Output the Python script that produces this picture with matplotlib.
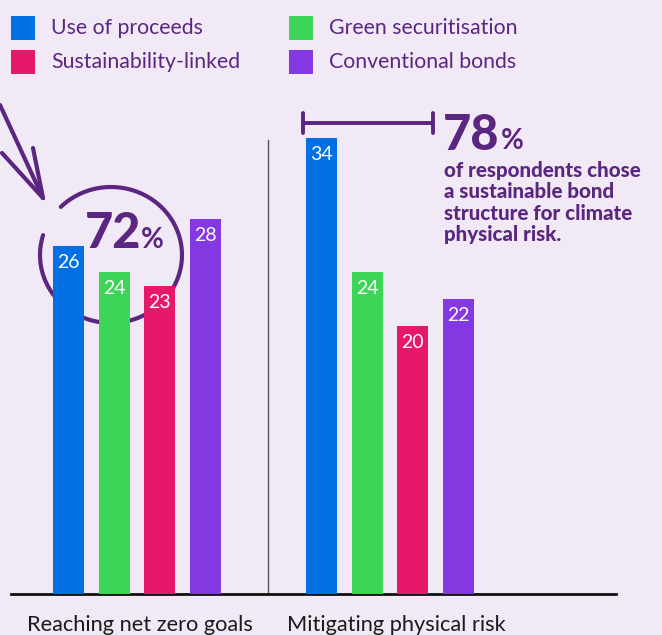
import numpy as np
import matplotlib
matplotlib.use("Agg")
import matplotlib.pyplot as plt
from matplotlib.patches import Rectangle

# --- data -------------------------------------------------------------
categories = ["Reaching net zero goals", "Mitigating physical risk"]
series = ["Use of proceeds", "Green securitisation", "Sustainability-linked", "Conventional bonds"]
use_of_proceeds = [26, 34]
green_securitisation = [24, 24]
sustainability_linked = [23, 20]
conventional_bonds = [28, 22]
net_zero_sustainable_share = 72
physical_risk_sustainable_share = 78

values = [use_of_proceeds, green_securitisation, sustainability_linked, conventional_bonds]
colors = ["#0270E3", "#3DD557", "#E6186A", "#8338E1"]
bg = "#F2E9F7"
ink = "#5B2680"

plt.rcParams["font.family"] = ["Lato", "DejaVu Sans"]

W, H = 662, 635
fig = plt.figure(figsize=(W / 100, H / 100), dpi=100, facecolor=bg)

# overlay in pixel coordinates for the hand-drawn decorations
ov = fig.add_axes([0, 0, 1, 1], zorder=0)
ov.set_xlim(0, W)
ov.set_ylim(H, 0)
ov.axis("off")
ov.set_facecolor(bg)

# bar axes: baseline at y=594 px, 13.4 px per unit
base_px, px_per_unit = 594, 13.4
left_px, right_px = 11, 616
slot_px = 45.5
g1_px = 137
ymax = base_px / px_per_unit
ax = fig.add_axes([left_px / W, (H - base_px) / H, (right_px - left_px) / W, base_px / H], zorder=2)
ax.set_facecolor("none")
ax.set_ylim(0, ymax)
ax.set_xlim(-(g1_px - left_px) / slot_px, (right_px - g1_px) / slot_px)

group_centers = np.array([0.0, 253 / slot_px])
width = 31 / slot_px
for i, (name, vals, c) in enumerate(zip(series, values, colors)):
    xs = group_centers + (i - 1.5)
    ax.bar(xs, vals, width=width, color=c, zorder=3, label=name)
    for x, v in zip(xs, vals):
        ax.text(x, v - 0.6, f"{v}", ha="center", va="top", color="white",
                fontsize=14, zorder=4)

for s in ["top", "right", "left"]:
    ax.spines[s].set_visible(False)
ax.spines["bottom"].set_linewidth(2.0)
ax.spines["bottom"].set_color("#111111")
ax.set_yticks([])
ax.set_xticks(group_centers + np.array([0.07, 0.13]))
ax.set_xticklabels(categories, fontsize=15.7, color="#1a1a1a")
ax.tick_params(axis="x", length=0, pad=15)

# divider between groups
div_x = (268 - g1_px) / slot_px
ax.plot([div_x, div_x], [0, (base_px - 140) / px_per_unit], color="#555555", lw=1.0, zorder=1)

# legend
legend_rows = [(11, 28), (11, 62), (289, 28), (289, 62)]
order = [0, 2, 1, 3]
for (lx, ly), k in zip(legend_rows, order):
    ov.add_patch(Rectangle((lx, ly - 12), 24, 24, color=colors[k], lw=0))
    ov.text(lx + 40, ly, series[k], fontsize=15.3, color=ink, va="center", ha="left")

# circle around the net-zero group
cx, cy, rx, ry = 111, 255, 71, 68
t = np.radians(np.linspace(225, 197 + 360, 300))
ov.plot(cx + rx * np.cos(t), cy + ry * np.sin(t), color=ink, lw=3.0, solid_capstyle="round")
ov.text(85, 233, f"{net_zero_sustainable_share}", fontsize=35, fontweight="black",
        color=ink, ha="left", va="center")
ov.text(141, 240, "%", fontsize=20, fontweight="bold", color=ink, ha="left", va="center")

# arrow pointing at the circle
ov.plot([0, 43], [105, 198], color=ink, lw=3.0, solid_capstyle="round")
ov.plot([2, 43], [153, 198], color=ink, lw=3.0, solid_capstyle="round")
ov.plot([33, 43], [148, 198], color=ink, lw=3.0, solid_capstyle="round")

# bracket and call-out for physical risk
ov.plot([303, 433], [123, 123], color=ink, lw=2.8, solid_capstyle="round")
ov.plot([303, 303], [113, 133], color=ink, lw=2.8, solid_capstyle="round")
ov.plot([433, 433], [113, 133], color=ink, lw=2.8, solid_capstyle="round")
ov.text(443, 135, f"{physical_risk_sustainable_share}", fontsize=35, fontweight="black",
        color=ink, ha="left", va="center")
ov.text(501, 141, "%", fontsize=20, fontweight="bold", color=ink, ha="left", va="center")
callout = ["of respondents chose", "a sustainable bond", "structure for climate", "physical risk."]
for j, line in enumerate(callout):
    ov.text(444, 171 + j * 21, line, fontsize=14.8, fontweight="black", color=ink,
            ha="left", va="center")

fig.savefig("out.png", dpi=100, facecolor=bg)
